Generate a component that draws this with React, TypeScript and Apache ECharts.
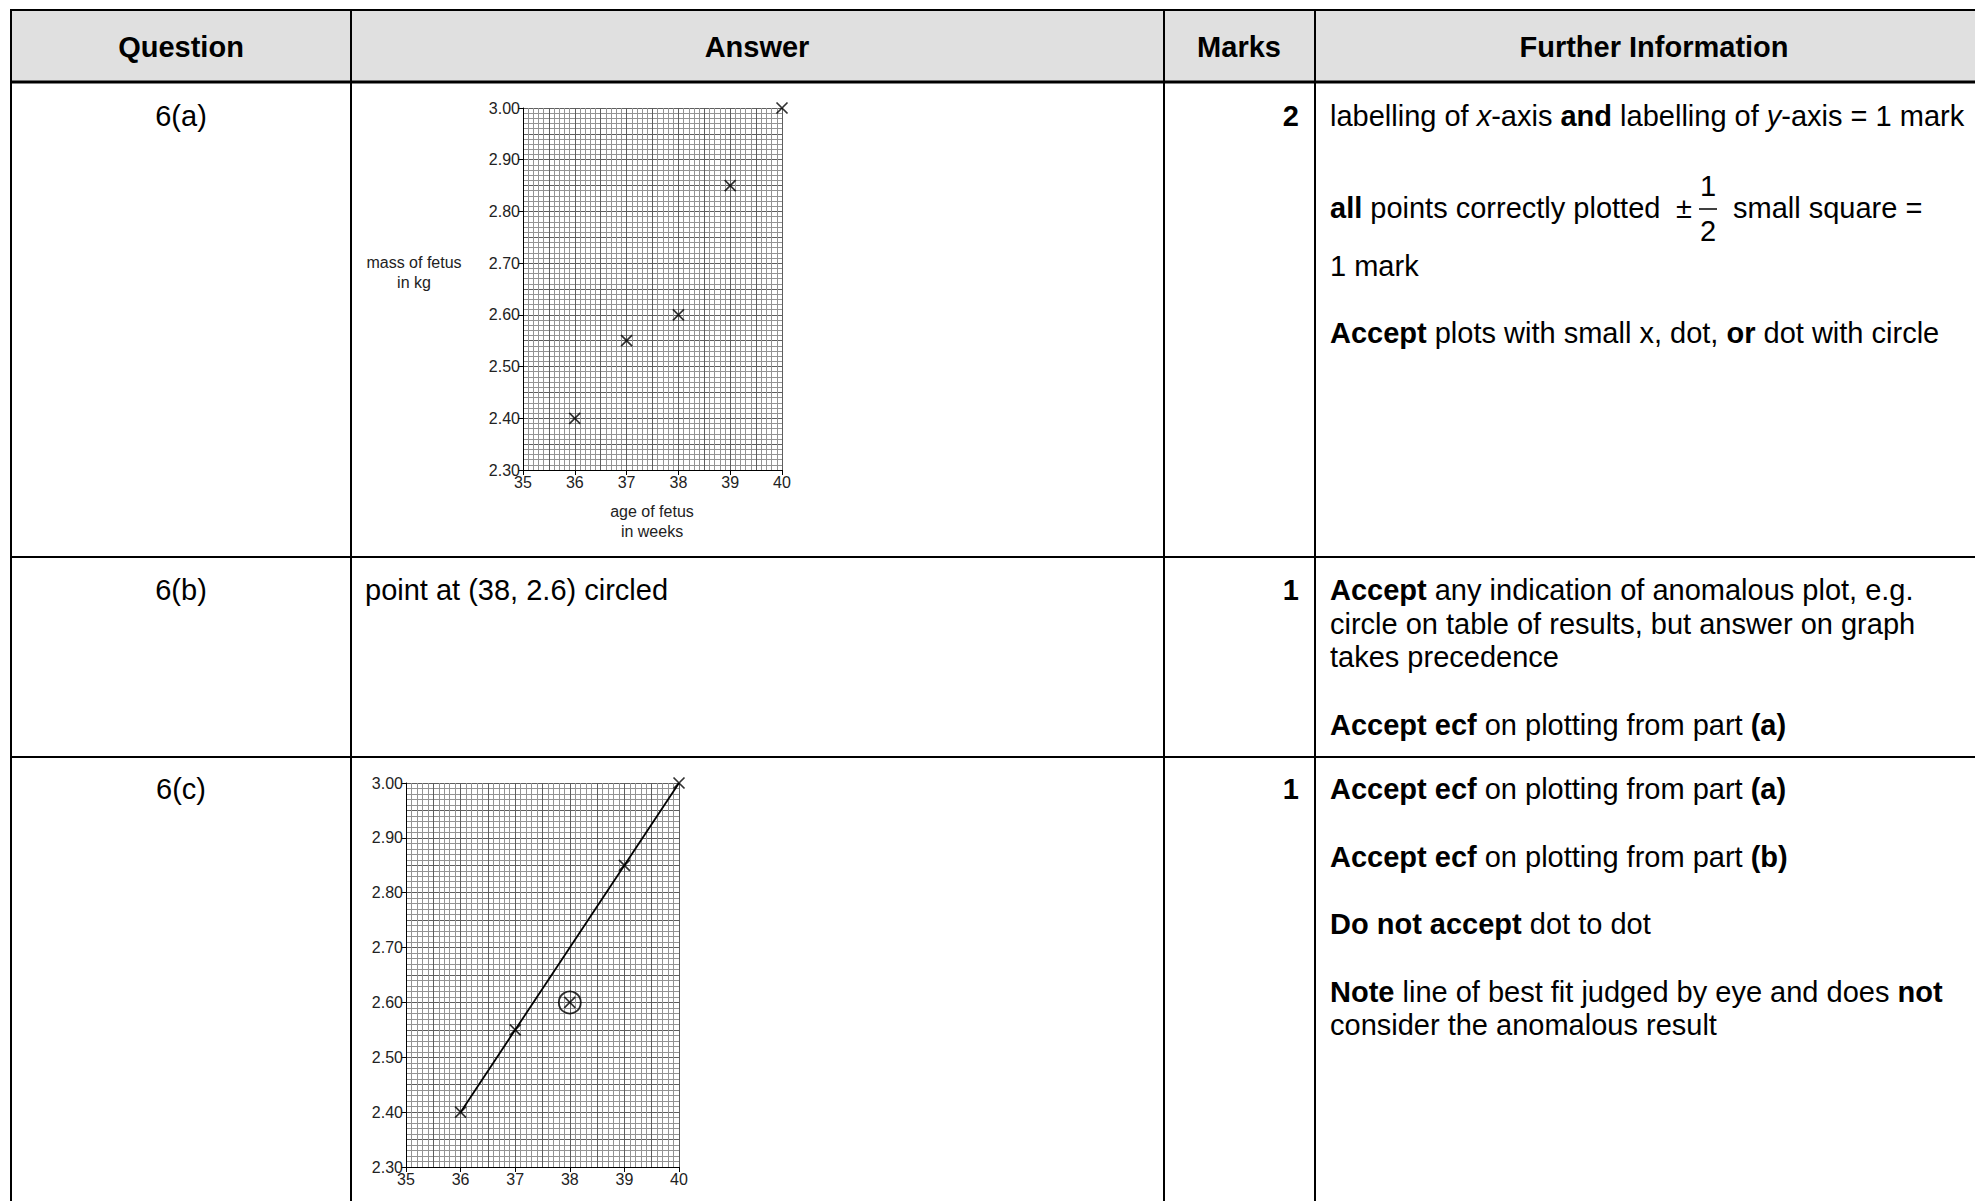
import React, { useEffect, useRef } from 'react';
import * as echarts from 'echarts';

// ---- chart data ----
const weeks = [36, 37, 38, 39, 40];
const massKg = [2.4, 2.55, 2.6, 2.85, 3.0];
const anomalyIndex = 2;
const bestFitWeeks = [36, 40];
const bestFitMass = [2.4, 3.0];
const xMin = 35;
const xMax = 40;
const yMin = 2.3;
const yMax = 3.0;

// ---- table text ----
const headers = ['Question', 'Answer', 'Marks', 'Further Information'];
const questions = ['6(a)', '6(b)', '6(c)'];
const marks = ['2', '1', '1'];
const answerB = 'point at (38, 2.6) circled';
const yAxisName = 'mass of fetus\nin kg';
const xAxisName = 'age of fetus\nin weeks';
const furtherA = [
  'labelling of {i|x}-axis {b|and} labelling of {i|y}-axis = 1 mark',
  '{b|all} points correctly plotted',
  '1 mark',
  '{b|Accept} plots with small x, dot, {b|or} dot with circle',
];
const fracParts = ['±', '1', '2', 'small square ='];
const furtherB = [
  '{b|Accept} any indication of anomalous plot, e.g.',
  'circle on table of results, but answer on graph',
  'takes precedence',
  '{b|Accept ecf} on plotting from part {b|(a)}',
];
const furtherC = [
  '{b|Accept ecf} on plotting from part {b|(a)}',
  '{b|Accept ecf} on plotting from part {b|(b)}',
  '{b|Do not accept} dot to dot',
  '{b|Note} line of best fit judged by eye and does {b|not}',
  'consider the anomalous result',
];

const FONT = "'Liberation Sans', Arial, Helvetica, sans-serif";
const FS = 29;

const rich = {
  b: { fontWeight: 'bold', fontSize: FS, fontFamily: FONT, fill: '#000', color: '#000' },
  i: { fontStyle: 'italic', fontSize: FS, fontFamily: FONT, fill: '#000', color: '#000' },
};

function txt(text: string, x: number, y: number, align: string, opts: any = {}) {
  return {
    type: 'text',
    x,
    y,
    z: 20,
    style: {
      text,
      fill: opts.fill ?? '#000',
      fontSize: opts.fontSize ?? FS,
      fontFamily: FONT,
      fontWeight: opts.fontWeight ?? 'normal',
      align,
      textAlign: align,
      verticalAlign: 'middle',
      textVerticalAlign: 'middle',
      lineHeight: opts.lineHeight,
      rich: opts.rich,
    },
  };
}

function hline(y: number, x1: number, x2: number, w: number) {
  return { type: 'line', z: 10, shape: { x1, y1: y, x2, y2: y }, style: { stroke: '#000', lineWidth: w } };
}
function vline(x: number, y1: number, y2: number, w: number) {
  return { type: 'line', z: 10, shape: { x1: x, y1, x2: x, y2 }, style: { stroke: '#000', lineWidth: w } };
}

function mainX(gridIndex: number) {
  return {
    gridIndex,
    type: 'value',
    min: xMin,
    max: xMax,
    interval: 1,
    z: 5,
    axisLine: { show: true, onZero: false, lineStyle: { color: '#000', width: 1 } },
    axisTick: { show: true, length: 5, lineStyle: { color: '#000', width: 1 } },
    axisLabel: { fontSize: 16, color: '#222', margin: 4, fontFamily: FONT, formatter: (v: number) => String(v) },
    splitLine: { show: false },
  };
}
function paperX(gridIndex: number) {
  return {
    gridIndex,
    type: 'value',
    min: xMin,
    max: xMax,
    interval: 0.5,
    z: 1,
    axisLine: { show: false },
    axisTick: { show: false },
    axisLabel: { show: false },
    splitLine: { show: true, lineStyle: { color: '#5e5e5e', width: 1 } },
    minorTick: { show: false, splitNumber: 5 },
    minorSplitLine: { show: true, lineStyle: { color: '#939393', width: 1 } },
  };
}
function mainY(gridIndex: number) {
  return {
    gridIndex,
    type: 'value',
    min: yMin,
    max: yMax,
    interval: 0.1,
    z: 5,
    axisLine: { show: true, onZero: false, lineStyle: { color: '#000', width: 1 } },
    axisTick: { show: true, length: 5, lineStyle: { color: '#000', width: 1 } },
    axisLabel: { fontSize: 16, color: '#222', margin: 3, fontFamily: FONT, formatter: (v: number) => v.toFixed(2) },
    splitLine: { show: false },
  };
}
function paperY(gridIndex: number) {
  return {
    gridIndex,
    type: 'value',
    position: 'left',
    min: yMin,
    max: yMax,
    interval: 0.05,
    z: 1,
    axisLine: { show: false },
    axisTick: { show: false },
    axisLabel: { show: false },
    splitLine: { show: true, lineStyle: { color: '#5e5e5e', width: 1 } },
    minorTick: { show: false, splitNumber: 5 },
    minorSplitLine: { show: true, lineStyle: { color: '#939393', width: 1 } },
  };
}

const CROSS = 'path://M0,0L10,10M10,0L0,10';

export default function App() {
  const ref = useRef<HTMLDivElement>(null);
  useEffect(() => {
    if (!ref.current) return;
    const chart = echarts.init(ref.current, null, { renderer: 'svg' });
    const points = weeks.map((w, i) => [w, massKg[i]]);
    const fit = bestFitWeeks.map((w, i) => [w, bestFitMass[i]]);

    const colCenters = [181, 757, 1239, 1654];
    const elements: any[] = [];
    elements.push({ type: 'rect', z: 5, shape: { x: 11, y: 10, width: 1970, height: 72 }, style: { fill: '#e0e0e0' } });
    elements.push(hline(10, 10, 1975, 2));
    elements.push(hline(82, 10, 1975, 3));
    elements.push(hline(557, 10, 1975, 2));
    elements.push(hline(757, 10, 1975, 2));
    [11, 351, 1164, 1315].forEach((x) => elements.push(vline(x, 10, 1201, 2)));

    headers.forEach((h, i) => elements.push(txt(h, colCenters[i], 47, 'center', { fontWeight: 'bold' })));
    const rowY = [116, 590, 789];
    questions.forEach((q, i) => elements.push(txt(q, 181, rowY[i], 'center')));
    marks.forEach((m, i) => elements.push(txt(m, 1299, rowY[i], 'right', { fontWeight: 'bold' })));
    elements.push(txt(answerB, 365, 590, 'left'));

    const aY = [116, 208, 266, 333];
    furtherA.forEach((t, i) => elements.push(txt(t, 1330, aY[i], 'left', { rich })));
    elements.push(txt(fracParts[0], 1684, 208, 'center'));
    elements.push(txt(fracParts[1], 1708, 186, 'center'));
    elements.push(txt(fracParts[2], 1708, 231, 'center'));
    elements.push({ type: 'line', z: 20, shape: { x1: 1699, y1: 209, x2: 1717, y2: 209 }, style: { stroke: '#000', lineWidth: 1.5 } });
    elements.push(txt(fracParts[3], 1733, 208, 'left'));

    const bY = [590, 624, 657, 725];
    furtherB.forEach((t, i) => elements.push(txt(t, 1330, bY[i], 'left', { rich })));
    const cY = [789, 857, 924, 992, 1025];
    furtherC.forEach((t, i) => elements.push(txt(t, 1330, cY[i], 'left', { rich })));

    elements.push(txt(yAxisName, 414, 272, 'center', { fontSize: 16, lineHeight: 20, fill: '#222' }));
    elements.push(txt(xAxisName, 652, 521, 'center', { fontSize: 16, lineHeight: 20, fill: '#222' }));

    const crossStyle = { color: 'transparent', borderColor: '#000', borderWidth: 1.7 };

    chart.setOption({
      animation: false,
      backgroundColor: '#fff',
      grid: [
        { left: 523, top: 108, width: 259, height: 362 },
        { left: 406, top: 783, width: 273, height: 384 },
      ],
      xAxis: [mainX(0), paperX(0), mainX(1), paperX(1)],
      yAxis: [mainY(0), paperY(0), mainY(1), paperY(1)],
      series: [
        {
          type: 'scatter',
          xAxisIndex: 0,
          yAxisIndex: 0,
          z: 8,
          symbol: CROSS,
          symbolSize: 11,
          itemStyle: crossStyle,
          data: points,
        },
        {
          type: 'line',
          xAxisIndex: 2,
          yAxisIndex: 2,
          z: 7,
          showSymbol: false,
          symbol: 'none',
          lineStyle: { color: '#000', width: 1.8 },
          data: fit,
        },
        {
          type: 'scatter',
          xAxisIndex: 2,
          yAxisIndex: 2,
          z: 8,
          symbol: CROSS,
          symbolSize: 11,
          itemStyle: crossStyle,
          data: points,
        },
        {
          type: 'scatter',
          xAxisIndex: 2,
          yAxisIndex: 2,
          z: 8,
          symbol: 'circle',
          symbolSize: 22,
          itemStyle: { color: 'transparent', borderColor: '#000', borderWidth: 1.8 },
          data: [[weeks[anomalyIndex], massKg[anomalyIndex]]],
        },
      ],
      graphic: { elements },
    });
    return () => chart.dispose();
  }, []);
  return (
    <div
      ref={ref}
      style={{ position: 'absolute', left: 0, top: 0, width: 1975, height: 1201, background: '#fff' }}
    />
  );
}
